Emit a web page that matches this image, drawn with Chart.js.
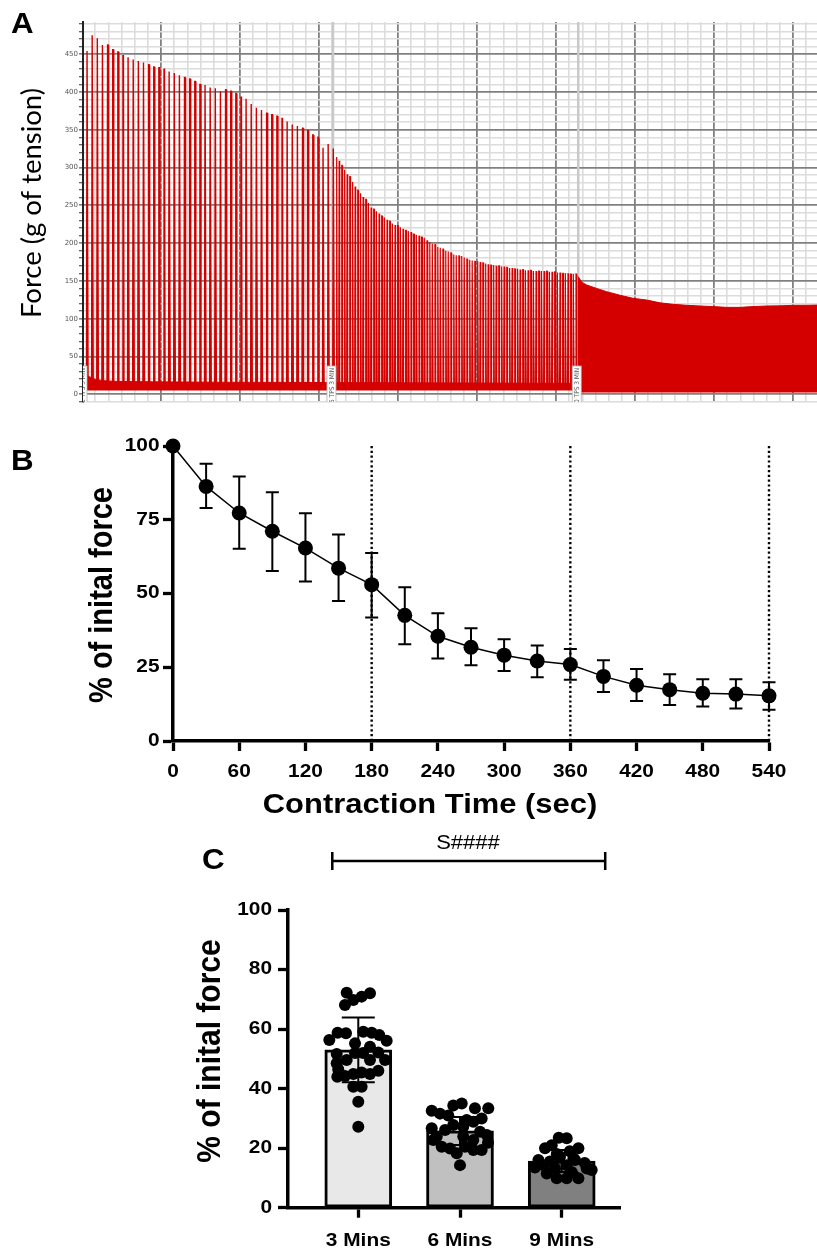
<!DOCTYPE html>
<html><head><meta charset="utf-8">
<script src="https://cdn.jsdelivr.net/npm/chart.js@4.4.1/dist/chart.umd.min.js"></script>
<style>
html,body{margin:0;padding:0;background:#fff;}
#wrap{position:relative;width:817px;height:1252px;overflow:hidden;background:#fff;}
canvas{position:absolute;left:0;}
</style></head><body>
<div id="wrap">
<canvas id="cA" width="817" height="412" style="top:0px"></canvas>
<canvas id="cB" width="817" height="400" style="top:420px"></canvas>
<canvas id="cC" width="817" height="432" style="top:820px"></canvas>
</div>
<script>
// ---------------- Panel A data (force trace, g of tension) ----------------
const phase1Peaks = [454,475,471,462,462,456,453,448,446,443,441,439,436,433,432,430,427,425,422,419,417,414,410,409,406,405,401,403,401,398,393,391,384,379,376,372,370,368,365,361,357,355,352,349,343,340,326,331,325];
const phase2Peaks = [314,309,303,297,291,288,281,275,270,266,261,258,253,247,245,242,239,236,234,231,229,226,224,223,221,219,217,216,214,212,211,209,208,207,203,201,199,198,195,194,192,190,189,187,185,184,183,183,181,179,178,177,176,176,175,174,173,172,171,171,170,170,169,169,168,167,167,166,166,165,165,164,164,164,163,163,163,163,163,163,162,162,162,161,161,160,160,160,159,159,159];
const phase1Start = 2.4, phase1Step = 3.74;     // s
const phase2Start = 184.2, phase2Step = 1.94;   // s
const phase3Times = [360.1,363.1,366.5,373.8,381.1,390.8,400.2,410.2,419.9,429.4,439.4,449.1,458.6,468.5,478.2,487.7,497.7,507.4,516.9,526.9,534.4];
const phase3Tops  = [156,148,144.6,140,135.7,131,127,124.7,121,119,117.7,116.8,116,115,115,116,116.8,117,117.7,117.7,118];
const baselineTimes = [0,3,8,14,25,50,100,180,270,360];
const baselineTops  = [27,24,20,18,17,16.5,16,15.5,15,14.5];
const markerTimes  = [0,181.5,360.3];
const markerLabels = ['2 TPS 3 MIN','5 TPS 3 MIN','10 TPS 3 MIN'];
const forceLabelTicks = [0,50,100,150,200,250,300,350,400,450];

// ---------------- Panel B data ----------------
const bTimes = [0,30,60,90,120,150,180,210,240,270,300,330,360,390,420,450,480,510,540];
const bMeans = [100,86.3,77.3,71.1,65.4,58.6,53.0,42.6,35.5,31.8,29.1,27.1,25.9,21.9,18.9,17.4,16.2,15.9,15.3];
const bHigh  = [null,94.0,89.7,84.3,77.2,70.0,63.7,52.1,43.3,38.2,34.5,32.4,31.2,27.4,24.4,22.6,20.9,20.9,19.9];
const bLow   = [null,79.0,65.2,57.6,54.1,47.5,41.9,32.8,28.0,25.7,23.7,21.6,20.8,16.6,13.6,12.2,11.7,11.0,10.6];
const bXTicks = [0,60,120,180,240,300,360,420,480,540];
const bYTicks = [0,25,50,75,100];
const bDotted = [180,360,540];

// ---------------- Panel C data ----------------
const cCategories = ['3 Mins','6 Mins','9 Mins'];
const cMeans = [53.0,25.8,15.7];
const cSD    = [10.9,4.7,3.7];
const c3Values = [72.2,72.0,70.9,69.8,68.1,59.1,58.8,58.6,58.8,58.0,56.3,56.1,55.2,54.1,52.1,52.0,52.0,51.6,49.6,49.6,49.6,48.5,46.5,46.0,45.4,44.9,44.9,44.2,44.0,40.6,40.6,35.6,27.2];
const c3Jitter = [-0.114,0.115,0.033,-0.049,-0.131,0.049,-0.203,-0.121,0.132,0.206,-0.285,0.279,-0.032,0.115,0.197,-0.032,0.047,-0.212,0.263,-0.114,0.115,-0.212,-0.197,0.197,0.033,-0.049,0.115,-0.131,-0.206,-0.049,0.033,0,0];
const c6Values = [35.0,34.3,33.4,33.4,32.6,31.6,31.0,30.0,29.5,28.9,27.8,27.2,26.7,26.1,25.5,24.4,23.9,23.9,22.7,22.7,21.8,20.5,20.5,19.9,19.4,19.4,18.3,14.3];
const c6Jitter = [0.017,-0.066,0.147,0.278,-0.278,-0.197,-0.115,0.213,0.066,0.131,-0.066,0.032,-0.278,-0.147,0.197,0.263,-0.229,0.032,0.131,-0.263,0.275,-0.18,0.049,-0.098,0.131,0.213,-0.032,0];
const c9Values = [23.5,23.3,21.0,20.0,20.0,19.0,18.0,17.1,16.5,16.0,16.0,15.5,15.0,14.3,14.3,13.5,13.2,13.2,12.7,12.0,11.5,9.9,9.9,9.9];
const c9Jitter = [-0.029,0.049,-0.098,-0.164,0.164,0.079,-0.049,-0.017,0.115,-0.229,0.131,-0.115,0.226,-0.18,0.049,-0.263,0.246,-0.066,0.295,0.098,-0.147,-0.049,0.049,0.164];
const cYTicks = [0,20,40,60,80,100];
const cSigLabel = 'S####';

// ---------------- helpers ----------------
const ARIAL = '"Liberation Sans", Arial, Helvetica, sans-serif';
const RED = '#d40000';
function drawText(ctx, text, x, y, o) {
  ctx.save();
  ctx.translate(x, y);
  if (o.rotate) ctx.rotate(o.rotate);
  ctx.font = o.font;
  let sx = o.sx || 1;
  if (o.fitWidth) sx = o.fitWidth / ctx.measureText(text).width;
  ctx.scale(sx, o.sy || 1);
  ctx.textAlign = o.align || 'center';
  ctx.textBaseline = o.baseline || 'middle';
  ctx.fillStyle = o.color || '#000';
  ctx.fillText(text, 0, 0);
  ctx.restore();
}
function fixW(w){ return s => { s.width = w; }; }
function fixH(h){ return s => { s.height = h; }; }
const noUI = { legend:{display:false}, tooltip:{enabled:false} };

// ================= PANEL A =================
const spikeBase = 9;
function spikeSeries(start, step, peaks, hw) {
  const pts = [];
  peaks.forEach((p, i) => {
    const t = start + step * i;
    pts.push({x:t-hw, y:spikeBase}, {x:t-hw*0.3, y:p}, {x:t+hw*0.3, y:p}, {x:t+hw, y:spikeBase});
  });
  return pts;
}
const gridT0 = -1.458, gridStep = 9.599;
const isMajorX = v => Math.round((v - gridT0) / gridStep) % 6 === 0;

const plugA = {
  id: 'plugA',
  beforeDatasetsDraw(chart) {
    const {ctx, chartArea:a, scales:{x}} = chart;
    ctx.save();
    ctx.strokeStyle = '#c9c9c9'; ctx.lineWidth = 2.5;
    markerTimes.forEach((t, i) => {
      if (i === 0) return;
      const px = x.getPixelForValue(t);
      ctx.beginPath(); ctx.moveTo(px, a.top); ctx.lineTo(px, a.bottom); ctx.stroke();
    });
    ctx.restore();
  },
  afterDatasetsDraw(chart) {
    const {ctx, chartArea:a, scales:{x}} = chart;
    ctx.save();
    ctx.beginPath(); ctx.rect(a.left, a.top, a.right - a.left, a.bottom - a.top); ctx.clip();
    markerTimes.forEach((t, i) => {
      const px = x.getPixelForValue(t) - 1.5;
      const w = 9, top = a.bottom - 36;
      ctx.fillStyle = '#fff'; ctx.fillRect(px - w/2, top, w, 40);
      ctx.strokeStyle = '#b0b0b0'; ctx.lineWidth = 0.8; ctx.strokeRect(px - w/2, top, w, 40);
      drawText(ctx, markerLabels[i], px + 2.6, top + 2, {font:'6.5px "DejaVu Sans Condensed", "DejaVu Sans"', rotate:-Math.PI/2, align:'right', baseline:'alphabetic', color:'#555'});
    });
    ctx.restore();
  },
  afterDraw(chart) {
    const ctx = chart.ctx;
    drawText(ctx, 'Force (g of tension)', 40.5, 203, {font:'26px Lato, "Open Sans", sans-serif', rotate:-Math.PI/2, fitWidth:230, baseline:'alphabetic'});
    drawText(ctx, 'A', 11, 33, {font:'bold 29px ' + ARIAL, align:'left', baseline:'alphabetic', sx:1.08});
  }
};

new Chart(document.getElementById('cA'), {
  type: 'line',
  data: { datasets: [
    { data: baselineTimes.map((t,i)=>({x:t, y:baselineTops[i]})), borderColor:RED, borderWidth:1, backgroundColor:RED, fill:{value:5}, pointRadius:0 },
    { data: spikeSeries(phase1Start, phase1Step, phase1Peaks, 0.6), borderColor:RED, borderWidth:1.4, backgroundColor:RED, pointRadius:0, fill:{value:spikeBase} },
    { data: spikeSeries(phase2Start, phase2Step, phase2Peaks, 0.45), borderColor:RED, borderWidth:1.2, backgroundColor:RED, pointRadius:0, fill:{value:spikeBase} },
    { data: phase3Times.map((t,i)=>({x:t, y:phase3Tops[i]})), borderColor:RED, borderWidth:1, backgroundColor:RED, fill:{value:2.5}, pointRadius:0 }
  ]},
  options: {
    responsive:false, animation:false, events:[],
    layout:{ padding:{left:0, right:0, top:22, bottom:0} },
    plugins: noUI,
    scales: {
      x: { type:'linear', min:-0.729, max:534.37,
        afterBuildTicks: s => { const t=[]; for (let k=1;;k++){ const v=gridT0+gridStep*k; if (v>s.max) break; t.push({value:v}); } s.ticks=t; },
        afterFit: fixH(10),
        ticks:{ display:false },
        border:{ display:false },
        grid:{ drawTicks:false, lineWidth: c => (c.tick && isMajorX(c.tick.value)) ? 1.8 : 1.6,
               color: c => (c.tick && isMajorX(c.tick.value)) ? '#808080' : '#dcdcdc' } },
      y: { type:'linear', min:-10.2, max:492.5,
        afterBuildTicks: s => { const t=[]; for (let v=-10; v<=490; v+=10) t.push({value:v}); s.ticks=t; },
        afterFit: fixW(83),
        ticks:{ autoSkip:false, padding:1, color:'#555', font:{family:'"DejaVu Sans"', size:7},
                callback: v => forceLabelTicks.includes(v) ? String(v) : '' },
        border:{ display:true, color:'#222', width:2 },
        grid:{ drawTicks:true, tickLength:4, tickColor:'#333', tickWidth:1,
               lineWidth: c => (c.tick && c.tick.value % 50 === 0) ? 1.8 : 1.5,
               color: c => (c.tick && c.tick.value % 50 === 0) ? '#808080' : '#dcdcdc' } }
    }
  },
  plugins:[plugA]
});

// ================= PANEL B =================
const plugB = {
  id: 'plugB',
  beforeDatasetsDraw(chart) {
    const {ctx, scales:{x, y}} = chart;
    ctx.save(); ctx.strokeStyle = '#000'; ctx.lineWidth = 2.4; ctx.setLineDash([2.2, 2.6]);
    bDotted.forEach(t => {
      const px = x.getPixelForValue(t);
      ctx.beginPath(); ctx.moveTo(px, y.getPixelForValue(100)); ctx.lineTo(px, y.getPixelForValue(0)); ctx.stroke();
    });
    ctx.restore();
  },
  afterDatasetsDraw(chart) {
    const {ctx, scales:{x, y}} = chart;
    ctx.save(); ctx.strokeStyle = '#000'; ctx.lineWidth = 2;
    bTimes.forEach((t, i) => {
      if (bHigh[i] == null) return;
      const px = x.getPixelForValue(t), yh = y.getPixelForValue(bHigh[i]), yl = y.getPixelForValue(bLow[i]);
      ctx.beginPath();
      ctx.moveTo(px, yh); ctx.lineTo(px, yl);
      ctx.moveTo(px - 6.5, yh); ctx.lineTo(px + 6.5, yh);
      ctx.moveTo(px - 6.5, yl); ctx.lineTo(px + 6.5, yl);
      ctx.stroke();
    });
    ctx.restore();
  },
  afterDraw(chart) {
    const {ctx, scales:{x, y}} = chart;
    const tf = 'bold 17.7px ' + ARIAL;
    bYTicks.forEach(v => drawText(ctx, String(v), 159.5, y.getPixelForValue(v), {font:tf, align:'right', sx:1.18}));
    bXTicks.forEach(v => drawText(ctx, String(v), x.getPixelForValue(v), 352, {font:tf, sx:1.18}));
    drawText(ctx, 'Contraction Time (sec)', 430, 386, {font:'bold 27px ' + ARIAL, sx:1.145});
    drawText(ctx, '% of inital force', 103, 175, {font:'bold 29px ' + ARIAL, rotate:-Math.PI/2, sy:1.13});
    drawText(ctx, 'B', 11, 50, {font:'bold 29px ' + ARIAL, align:'left', baseline:'alphabetic', sx:1.08});
  }
};

new Chart(document.getElementById('cB'), {
  type: 'line',
  data: { datasets: [
    { data: bTimes.map((t,i)=>({x:t, y:bMeans[i]})), borderColor:'#000', borderWidth:1.5,
      pointRadius:7.5, pointBackgroundColor:'#000', pointBorderWidth:0, clip:false, fill:false }
  ]},
  options: {
    responsive:false, animation:false, events:[],
    layout:{ padding:{left:0, right:48, top:26, bottom:59} },
    plugins: noUI,
    scales: {
      x: { type:'linear', min:0, max:540,
        afterBuildTicks: s => { s.ticks = bXTicks.map(v=>({value:v})); },
        afterFit: fixH(20),
        ticks:{ display:false },
        border:{ display:true, color:'#000', width:3.5 },
        grid:{ drawOnChartArea:false, drawTicks:true, tickLength:10, tickWidth:3.3, tickColor:'#000' } },
      y: { type:'linear', min:0, max:100,
        afterBuildTicks: s => { s.ticks = bYTicks.map(v=>({value:v})); },
        afterFit: fixW(173),
        ticks:{ display:false },
        border:{ display:true, color:'#000', width:3.5 },
        grid:{ drawOnChartArea:false, drawTicks:true, tickLength:10, tickWidth:3.3, tickColor:'#000' } }
    }
  },
  plugins:[plugB]
});

// ================= PANEL C =================
const cBarColors = ['#e8e8e8','#c0c0c0','#808080'];
const dotData = [];
[[c3Values,c3Jitter],[c6Values,c6Jitter],[c9Values,c9Jitter]].forEach(([vals, jit], g) => {
  vals.forEach((v, i) => dotData.push({x: g + 1 + jit[i], y: v}));
});

const plugC = {
  id: 'plugC',
  afterDatasetsDraw(chart) {
    const {ctx, scales:{x, y}} = chart;
    ctx.save(); ctx.strokeStyle = '#000'; ctx.lineWidth = 2;
    cMeans.forEach((m, i) => {
      const px = x.getPixelForValue(i + 1), yh = y.getPixelForValue(m + cSD[i]), yl = y.getPixelForValue(m - cSD[i]);
      ctx.beginPath();
      ctx.moveTo(px, yh); ctx.lineTo(px, yl);
      ctx.moveTo(px - 16.5, yh); ctx.lineTo(px + 16.5, yh);
      ctx.moveTo(px - 16.5, yl); ctx.lineTo(px + 16.5, yl);
      ctx.stroke();
    });
    ctx.restore();
  },
  afterDraw(chart) {
    const {ctx, scales:{x, y}} = chart;
    const tf = 'bold 17.7px ' + ARIAL;
    cYTicks.forEach(v => drawText(ctx, String(v), 272, y.getPixelForValue(v), {font:tf, align:'right', sx:1.18}));
    cCategories.forEach((c, i) => drawText(ctx, c, x.getPixelForValue(i + 1), 421, {font:tf, sx:1.18}));
    drawText(ctx, '% of inital force', 211, 231, {font:'bold 30px ' + ARIAL, rotate:-Math.PI/2, sy:1.13});
    // significance bracket between 3 Mins and 9 Mins
    const x1 = x.getPixelForValue(1) - 26, x2 = x.getPixelForValue(3) + 43.5, ly = 41;
    ctx.save(); ctx.strokeStyle = '#000'; ctx.lineWidth = 2.5;
    ctx.beginPath();
    ctx.moveTo(x1, ly); ctx.lineTo(x2, ly);
    ctx.moveTo(x1, ly - 9); ctx.lineTo(x1, ly + 9);
    ctx.moveTo(x2, ly - 9); ctx.lineTo(x2, ly + 9);
    ctx.stroke(); ctx.restore();
    drawText(ctx, cSigLabel, 468, 23, {font:'20px ' + ARIAL, sx:1.1});
    drawText(ctx, 'C', 202, 49, {font:'bold 29px ' + ARIAL, align:'left', baseline:'alphabetic', sx:1.08});
  }
};

new Chart(document.getElementById('cC'), {
  type: 'bar',
  data: { datasets: [
    { type:'bar', data: cMeans.map((m,i)=>({x:i+1, y:m})), backgroundColor:cBarColors, borderColor:'#000',
      borderWidth:3, borderSkipped:false, barThickness:67, grouped:false, order:2 },
    { type:'scatter', data: dotData, pointRadius:6, pointBackgroundColor:'#000', pointBorderWidth:0,
      showLine:false, clip:false, order:1 }
  ]},
  options: {
    responsive:false, animation:false, events:[],
    layout:{ padding:{left:0, right:197, top:90, bottom:24.3} },
    plugins: noUI,
    scales: {
      x: { type:'linear', min:0.309, max:3.573, offset:false,
        afterBuildTicks: s => { s.ticks = [1,2,3].map(v=>({value:v})); },
        afterFit: fixH(20),
        ticks:{ display:false },
        border:{ display:true, color:'#000', width:3.5 },
        grid:{ drawOnChartArea:false, drawTicks:true, tickLength:10, tickWidth:3.3, tickColor:'#000', offset:false } },
      y: { type:'linear', min:0, max:100,
        afterBuildTicks: s => { s.ticks = cYTicks.map(v=>({value:v})); },
        afterFit: fixW(288),
        ticks:{ display:false },
        border:{ display:true, color:'#000', width:3.5 },
        grid:{ drawOnChartArea:false, drawTicks:true, tickLength:10, tickWidth:3.3, tickColor:'#000' } }
    }
  },
  plugins:[plugC]
});
</script>
</body></html>
